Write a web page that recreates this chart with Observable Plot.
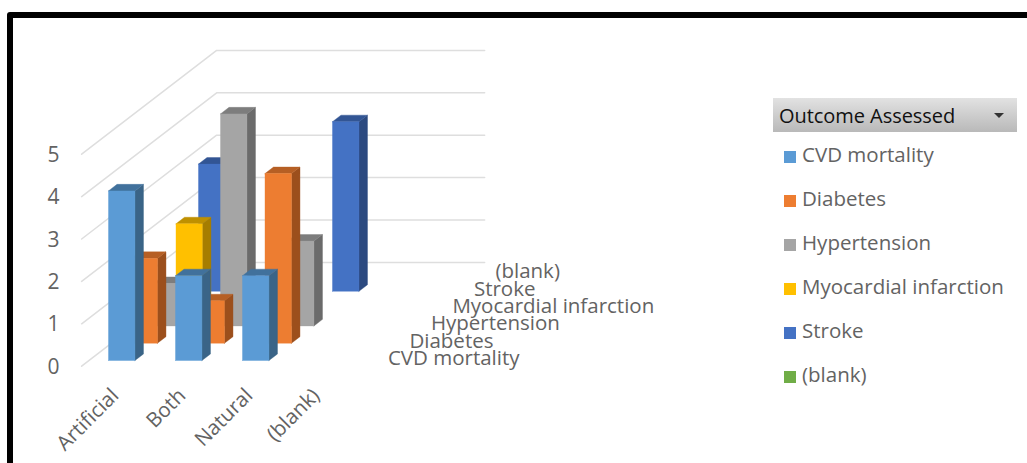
<!DOCTYPE html>
<html>
<head>
<meta charset="utf-8">
<script src="https://cdn.jsdelivr.net/npm/d3@7"></script>
<script src="https://cdn.jsdelivr.net/npm/@observablehq/plot@0.6"></script>
<style>
html,body{margin:0;padding:0;background:#fff;width:1027px;height:463px;overflow:hidden;font-family:"Open Sans",sans-serif}
#frame{position:absolute;left:7px;top:12px;width:1100px;height:600px;border:6px solid #000;border-radius:3px;box-sizing:border-box;pointer-events:none}
#chart{position:absolute;left:0;top:0}
#legend{position:absolute;left:773px;top:98px;width:244px;color:#636363;font-size:20.5px}
#legend .head{height:34px;line-height:36px;background:linear-gradient(#e2e2e2,#b9b9b9);color:#111;padding-left:6px;position:relative;font-size:20px;letter-spacing:-0.05px}
#legend .head i{position:absolute;right:13px;top:15px;width:0;height:0;border-left:5px solid transparent;border-right:5px solid transparent;border-top:5px solid #333}
#legend .row{position:absolute;left:11px;height:28px;line-height:28px;white-space:nowrap}
#legend .row b{display:inline-block;width:12px;height:12px;margin-right:6px;vertical-align:-1px}
</style>
</head>
<body>
<div id="chart"></div>
<div id="legend"></div>
<div id="frame"></div>
<script>
const categories = ["Artificial", "Both", "Natural", "(blank)"];
const seriesNames = ["CVD mortality", "Diabetes", "Hypertension", "Myocardial infarction", "Stroke", "(blank)"];
const cvdMortality = [4, 2, 2, null];
const diabetes = [2, 1, 4, null];
const hypertension = [1, 5, 2, null];
const myocardialInfarction = [2, null, null, null];
const stroke = [3, null, 4, null];
const blankSeries = [null, null, null, null];
const seriesValues = [cvdMortality, diabetes, hypertension, myocardialInfarction, stroke, blankSeries];
const valueTicks = [0, 1, 2, 3, 4, 5];
const frontColors = ["#5B9BD5", "#ED7D31", "#A5A5A5", "#FFC000", "#4472C4", "#70AD47"];
const sideColors = ["#3A6487", "#9C4F1C", "#6B6B6B", "#A67D00", "#2C4A80", "#4A722F"];
const topColors = ["#41719C", "#B65F24", "#7D7D7D", "#BF9000", "#325594", "#548235"];

// Oblique projection of (category, value, depth) onto the plot's x/y scales
const catPx = 67, valPx = 42.4, depthX = 22.5, depthY = 17.3;
const U = (c, d) => c + d * depthX / catPx;
const V = (v, d) => v + d * depthY / valPx;
const barW = 0.395, barD = 0.378;

// Walls
const wallC0 = -0.29, wallC1 = 3.71, wallD0 = -0.33, wallD1 = 5.67;
const grid = valueTicks.flatMap(v => [
  {id: v, x: U(wallC0, wallD0), y: V(v, wallD0)},
  {id: v, x: U(wallC0, wallD1), y: V(v, wallD1)},
  {id: v, x: U(wallC1, wallD1), y: V(v, wallD1)}
]);

// Bar faces, painted back to front
const faces = [];
let fid = 0;
function poly(points, color) {
  fid++;
  for (const [x, y] of [...points, points[0]]) faces.push({id: fid, x, y, color});
}
for (let s = seriesValues.length - 1; s >= 0; s--) {
  seriesValues[s].forEach((v, c) => {
    if (v == null) return;
    const c1 = c + barW, d1 = s + barD;
    poly([[U(c1, s), V(0, s)], [U(c1, d1), V(0, d1)], [U(c1, d1), V(v, d1)], [U(c1, s), V(v, s)]], sideColors[s]);
    poly([[U(c, s), V(v, s)], [U(c1, s), V(v, s)], [U(c1, d1), V(v, d1)], [U(c, d1), V(v, d1)]], topColors[s]);
    poly([[U(c, s), V(0, s)], [U(c1, s), V(0, s)], [U(c1, s), V(v, s)], [U(c, s), V(v, s)]], frontColors[s]);
  });
}

const labelStep = 21.5 / depthX;
const chart = Plot.plot({
  width: 1027, height: 463,
  margin: 0,
  x: {domain: [-108 / catPx, (1027 - 108) / catPx], range: [0, 1027], axis: null},
  y: {domain: [360 / valPx, (360 - 463) / valPx], range: [0, 463], axis: null},
  color: {type: "identity"},
  style: {fontFamily: "'Open Sans',sans-serif", background: "transparent"},
  marks: [
    Plot.line(grid, {x: "x", y: "y", z: "id", stroke: "#DEDEDE", strokeWidth: 1.5, curve: "linear"}),
    Plot.line(faces, {x: "x", y: "y", z: "id", fill: d => d.color, stroke: d => d.color, strokeWidth: 0.4, curve: "linear"}),
    // value axis
    Plot.text(valueTicks, {x: U(wallC0, wallD0) - 0.42, y: v => V(v, wallD0) - 0.02, text: d => String(d), fontSize: 21, fill: "#636363"}),
    // category axis
    Plot.text(categories, {x: (d, i) => i + 0.1, y: -0.75, text: d => d, fontSize: 20.5, fill: "#636363", rotate: -45, textAnchor: "end"}),
    // series (depth) axis
    Plot.text(seriesNames, {x: (d, i) => U(4.17, i * labelStep), y: (d, i) => V(0, i) + 0.05, text: d => d, fontSize: 20.5, fill: "#636363", textAnchor: "start"})
  ]
});
document.getElementById("chart").appendChild(chart);

// Legend
const lg = document.getElementById("legend");
const head = document.createElement("div");
head.className = "head";
head.textContent = "Outcome Assessed";
head.appendChild(document.createElement("i"));
lg.appendChild(head);
seriesNames.forEach((name, i) => {
  const r = document.createElement("div");
  r.className = "row";
  r.style.top = (42 + i * 44) + "px";
  const b = document.createElement("b");
  b.style.background = frontColors[i];
  r.appendChild(b);
  r.appendChild(document.createTextNode(name));
  lg.appendChild(r);
});
</script>
</body>
</html>
